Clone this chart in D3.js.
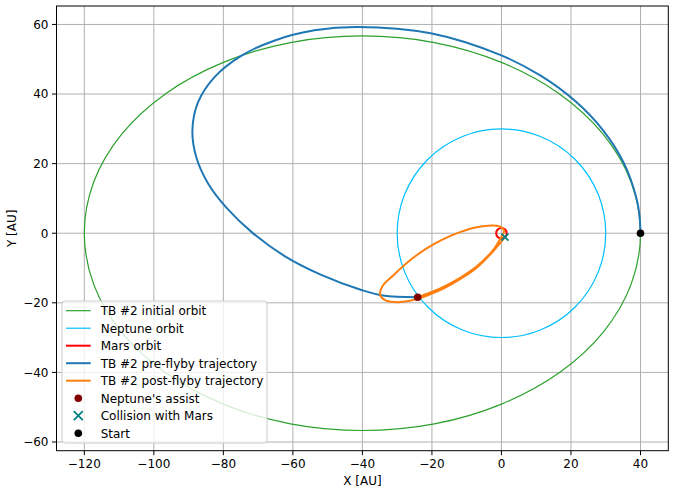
<!DOCTYPE html>
<html>
<head>
<meta charset="utf-8">
<script src="https://cdn.jsdelivr.net/npm/d3@7"></script>
<style>
  body { margin: 0; background: #fff; }
  svg { display: block; font-family: "DejaVu Sans", sans-serif; }
</style>
</head>
<body>
<svg id="chart" width="675" height="493"></svg>
<script>
// ---------------- DATA ----------------
const xTicks = [-120, -100, -80, -60, -40, -20, 0, 20, 40];
const yTicks = [-60, -40, -20, 0, 20, 40, 60];
const xDomain = [-128, 48];
const yDomain = [-62.5, 65.3];

// TB #2 initial orbit
const initialOrbit = [
  [40, 0], [37.3, 14.7], [29.3, 28.4], [16.6, 40.1], [0, 49.1], [-19.3, 54.8],
  [-40, 56.7], [-60.7, 54.8], [-80, 49.1], [-96.6, 40.1], [-109.3, 28.4], [-117.3, 14.7],
  [-120, 0], [-117.3, -14.7], [-109.3, -28.4], [-96.6, -40.1], [-80, -49.1], [-60.7, -54.8],
  [-40, -56.7], [-19.3, -54.8], [0, -49.1], [16.6, -40.1], [29.3, -28.4], [37.3, -14.7]
];
const neptuneRadius = 30;
const marsRadius = 1.52;

// TB #2 pre-flyby trajectory
const preFlyby = [
  [40, 0], [39.7, 5.1], [38.8, 10.2], [35.2, 20.2], [29.3, 29.5], [21.3, 37.9],
  [11.4, 45.2], [0, 51.1], [-20, 57.4], [-41.5, 59.3], [-53.8, 58.3], [-65.2, 55.4],
  [-75, 50.9], [-82.6, 44.8], [-87.3, 37.6], [-88.9, 29.7], [-87.8, 21.9], [-84.4, 14.3],
  [-79, 7.2], [-71.6, 0.1], [-62.5, -6.5], [-52, -11.9], [-40.3, -16.3], [-34.1, -17.9],
  [-24.1, -18.4]
];

// TB #2 post-flyby trajectory
const postFlyby = [
  [-24.1, -18.4], [-21.4, -17.4], [-16.7, -15.4], [-11.9, -12.8], [-7.1, -9.5],
  [-2.3, -4.7], [0.0, -1.0], [0.8, 0.6], [0.0, 1.7], [-2.3, 2.2], [-7.1, 1.7],
  [-11.9, 0.3], [-16.7, -1.7], [-21.4, -4.3], [-26.2, -7.7], [-31.0, -12.0],
  [-34.2, -15.2], [-34.9, -17.7], [-33.5, -19.2], [-29.1, -19.8], [-24.6, -19.0],
  [-21.4, -17.9], [-16.7, -15.9], [-11.9, -13.2], [-7.1, -9.9], [-2.3, -5.1], [1.0, -1.15]
];

const assistPoint = [-24.1, -18.4];
const collisionPoint = [1.0, -1.15];
const startPoint = [40, 0];

const legendLabels = [
  "TB #2 initial orbit", "Neptune orbit", "Mars orbit", "TB #2 pre-flyby trajectory",
  "TB #2 post-flyby trajectory", "Neptune's assist", "Collision with Mars", "Start"
];

// ---------------- DRAW ----------------
(function () {
const svg = d3.select("#chart");
const mLeft = 56.5, mRight = 668.3, mTop = 6, mBottom = 450.7;

const x = d3.scaleLinear().domain(xDomain).range([mLeft, mRight]);
const y = d3.scaleLinear().domain(yDomain).range([mBottom, mTop]);

const grid = svg.append("g");
xTicks.forEach(t => grid.append("line")
  .attr("x1", x(t)).attr("x2", x(t)).attr("y1", mTop).attr("y2", mBottom)
  .attr("stroke", "#b0b0b0").attr("stroke-width", 1));
yTicks.forEach(t => grid.append("line")
  .attr("y1", y(t)).attr("y2", y(t)).attr("x1", mLeft).attr("x2", mRight)
  .attr("stroke", "#b0b0b0").attr("stroke-width", 1));

const plot = svg.append("g");
plot.append("clipPath").attr("id", "clip").append("rect")
  .attr("x", mLeft).attr("y", mTop).attr("width", mRight - mLeft).attr("height", mBottom - mTop);
const g = plot.append("g").attr("clip-path", "url(#clip)");

const lineClosed = d3.line().x(d => x(d[0])).y(d => y(d[1])).curve(d3.curveCatmullRomClosed.alpha(0.5));
const lineOpen = d3.line().x(d => x(d[0])).y(d => y(d[1])).curve(d3.curveCatmullRom.alpha(0.5));

g.append("path").attr("d", lineClosed(initialOrbit))
  .attr("fill", "none").attr("stroke", "#2ca02c").attr("stroke-width", 1.2);

g.append("circle").attr("cx", x(0)).attr("cy", y(0)).attr("r", x(neptuneRadius) - x(0))
  .attr("fill", "none").attr("stroke", "#00bfff").attr("stroke-width", 1.2);

g.append("circle").attr("cx", x(0)).attr("cy", y(0)).attr("r", x(marsRadius) - x(0))
  .attr("fill", "none").attr("stroke", "#ff0000").attr("stroke-width", 2);

g.append("path").attr("d", lineOpen(preFlyby))
  .attr("fill", "none").attr("stroke", "#1f77b4").attr("stroke-width", 2);

g.append("path").attr("d", lineOpen(postFlyby))
  .attr("fill", "none").attr("stroke", "#ff7f0e").attr("stroke-width", 2);

function xMarker(sel, cx, cy, s, color, w) {
  sel.append("path")
    .attr("d", `M${cx - s},${cy - s}L${cx + s},${cy + s}M${cx - s},${cy + s}L${cx + s},${cy - s}`)
    .attr("stroke", color).attr("stroke-width", w).attr("fill", "none");
}

g.append("circle").attr("cx", x(assistPoint[0])).attr("cy", y(assistPoint[1])).attr("r", 3.8)
  .attr("fill", "#800000");
xMarker(g, x(collisionPoint[0]), y(collisionPoint[1]), 3.5, "#008080", 1.8);
g.append("circle").attr("cx", x(startPoint[0])).attr("cy", y(startPoint[1])).attr("r", 3.8)
  .attr("fill", "#000");

// spines
svg.append("rect").attr("x", mLeft).attr("y", mTop).attr("width", mRight - mLeft).attr("height", mBottom - mTop)
  .attr("fill", "none").attr("stroke", "#000").attr("stroke-width", 1);

// ticks
const axG = svg.append("g").attr("font-size", 12).attr("fill", "#000");
xTicks.forEach(t => {
  axG.append("line").attr("x1", x(t)).attr("x2", x(t)).attr("y1", mBottom).attr("y2", mBottom + 4.5)
    .attr("stroke", "#000").attr("stroke-width", 1);
  axG.append("text").attr("x", x(t)).attr("y", mBottom + 8).attr("dy", "0.76em")
    .attr("text-anchor", "middle").text(String(t).replace("-", "\u2212"));
});
yTicks.forEach(t => {
  axG.append("line").attr("y1", y(t)).attr("y2", y(t)).attr("x1", mLeft).attr("x2", mLeft - 4.5)
    .attr("stroke", "#000").attr("stroke-width", 1);
  axG.append("text").attr("x", mLeft - 8).attr("y", y(t)).attr("dy", "0.36em")
    .attr("text-anchor", "end").text(String(t).replace("-", "\u2212"));
});
axG.append("text").attr("x", (mLeft + mRight) / 2).attr("y", 485).attr("text-anchor", "middle").text("X [AU]");
axG.append("text").attr("transform", `translate(16,${(mTop + mBottom) / 2}) rotate(-90)`)
  .attr("text-anchor", "middle").text("Y [AU]");

// legend
const lg = svg.append("g");
lg.append("rect").attr("x", 62).attr("y", 301).attr("width", 205).attr("height", 142).attr("rx", 3)
  .attr("fill", "#fff").attr("fill-opacity", 0.8).attr("stroke", "#cccccc").attr("stroke-width", 1);
const lineColors = ["#2ca02c", "#00bfff", "#ff0000", "#1f77b4", "#ff7f0e"];
const lineWidths = [1.2, 1.2, 2, 2, 2];
legendLabels.forEach((lab, i) => {
  const yy = 310.7 + i * 17.5;
  if (i < 5) {
    lg.append("line").attr("x1", 66).attr("x2", 90.7).attr("y1", yy).attr("y2", yy)
      .attr("stroke", lineColors[i]).attr("stroke-width", lineWidths[i]);
  } else if (i === 5) {
    lg.append("circle").attr("cx", 78.3).attr("cy", yy).attr("r", 3.8).attr("fill", "#800000");
  } else if (i === 6) {
    xMarker(lg, 78.3, yy, 4.5, "#008080", 1.8);
  } else {
    lg.append("circle").attr("cx", 78.3).attr("cy", yy).attr("r", 3.8).attr("fill", "#000");
  }
  lg.append("text").attr("x", 100.7).attr("y", yy).attr("dy", "0.36em")
    .attr("font-size", 12).text(lab);
});
})();
</script>
</body>
</html>
